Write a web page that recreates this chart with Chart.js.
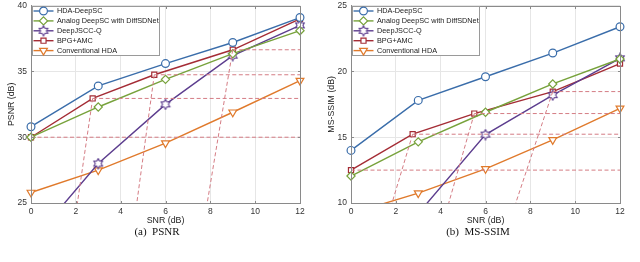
<!DOCTYPE html>
<html>
<head>
<meta charset="utf-8">
<script src="https://cdn.jsdelivr.net/npm/chart.js"></script>
<style>
  body { margin: 0; background: #fff; width: 640px; height: 262px; overflow: hidden; position: relative; }
  .panel { position: absolute; top: 0; width: 320px; height: 226px; }
  .cap { position: absolute; top: 225px; width: 200px; text-align: center; white-space: pre;
         font-family: "Liberation Serif", "Times New Roman", serif; font-size: 11px; color: #111; }
</style>
</head>
<body>
<div class="panel" style="left:0"><canvas id="psnr" width="320" height="226"></canvas></div>
<div class="panel" style="left:320px"><canvas id="ssim" width="320" height="226"></canvas></div>
<div class="cap" style="left:57px">(a)  PSNR</div>
<div class="cap" style="left:378px">(b)  MS-SSIM</div>
<script>
// SNR points (dB)
const snr = [0, 3, 6, 9, 12];
const bpgSnr = [0, 2.75, 5.5, 9, 12];
const seriesNames = ['HDA-DeepSC', 'Analog DeepSC with DiffSDNet', 'DeepJSCC-Q', 'BPG+AMC', 'Conventional HDA'];

// PSNR panel
const psnrHda = [30.8, 33.9, 35.6, 37.2, 39.1];
const psnrAnalog = [30.0, 32.3, 34.4, 36.35, 38.1];
const psnrDeepjscc = [22.0, 28.0, 32.5, 36.2, 38.5];
const psnrBpg = [30.0, 32.95, 34.75, 36.65, 39.0];
const psnrConv = [25.8, 27.5, 29.55, 31.9, 34.3];
const psnrCliffX = [2.07, 4.72, 7.86];   // where the BPG mode curves hit the bottom
const psnrTicks = [25, 30, 35, 40];

// MS-SSIM panel
const ssimHda = [14.0, 17.8, 19.6, 21.4, 23.4];
const ssimAnalog = [12.05, 14.65, 16.9, 19.05, 20.95];
const ssimDeepjscc = [5.0, 9.2, 15.2, 18.2, 21.0];
const ssimBpg = [12.5, 15.23, 16.8, 18.47, 20.6];
const ssimConv = [9.2, 10.75, 12.6, 14.8, 17.2];
const ssimCliffX = [1.83, 4.36, 7.35];
const ssimTicks = [10, 15, 20, 25];

const colors = ['#3a6daa', '#77a23b', '#5c3d8e', '#a42c35', '#e07a2c'];
const dashColor = '#d47c84';
const sans = '"Liberation Sans", Arial, sans-serif';

// 6-point star marker
function hexagram(color) {
  const size = 12;
  const c = document.createElement('canvas');
  c.width = c.height = size;
  const g = c.getContext('2d');
  const r = 5, ri = r / Math.sqrt(3);
  g.beginPath();
  for (let i = 0; i < 12; i++) {
    const a = -Math.PI / 2 + i * Math.PI / 6;
    const rr = i % 2 ? ri : r;
    const px = size / 2 + rr * Math.cos(a), py = size / 2 + rr * Math.sin(a);
    i ? g.lineTo(px, py) : g.moveTo(px, py);
  }
  g.closePath();
  g.fillStyle = '#fff';
  g.fill();
  g.strokeStyle = color;
  g.lineWidth = 1.1;
  g.stroke();
  return c;
}

const styles = [
  { pointStyle: 'circle', pointRadius: 3.9, pointRotation: 0 },
  { pointStyle: 'rectRot', pointRadius: 4.1, pointRotation: 0 },
  { pointStyle: hexagram(colors[2]), pointRadius: 4, pointRotation: 0 },
  { pointStyle: 'rect', pointRadius: 3.6, pointRotation: 0 },
  { pointStyle: 'triangle', pointRadius: 4.5, pointRotation: 180 }
];

function pts(xs, ys) { return xs.map((x, i) => ({ x: x, y: ys[i] })); }

function buildDatasets(ys, bpgY, cliffX, yMin) {
  const sets = ys.map((vals, i) => Object.assign({
    label: seriesNames[i],
    data: pts(i === 3 ? bpgSnr : snr, vals),
    borderColor: colors[i],
    pointBorderColor: colors[i],
    pointBackgroundColor: '#fff',
    borderWidth: 1.4,
    pointBorderWidth: 1.2,
    tension: 0,
    clip: { left: 8, right: 8, top: 8, bottom: 0 }
  }, styles[i]));
  // dashed guides of the BPG operating points
  const guides = [];
  bpgY.forEach((v, i) => {
    if (i < 4) guides.push({ data: [{ x: bpgSnr[i], y: v }, { x: 12, y: v }] });
  });
  cliffX.forEach((cx, i) => {
    guides.push({ data: [{ x: bpgSnr[i + 1], y: bpgY[i + 1] }, { x: cx, y: yMin }] });
  });
  guides.forEach(g => {
    sets.unshift(Object.assign(g, {
      borderColor: dashColor, borderWidth: 1, borderDash: [4, 2.5],
      pointRadius: 0, guide: true, clip: 0
    }));
  });
  return sets;
}

const frame = {
  id: 'frame',
  afterDraw(chart) {
    const ctx = chart.ctx, a = chart.chartArea;
    const xs = chart.scales.x, ys = chart.scales.y;
    ctx.save();
    ctx.strokeStyle = '#8a8a8a';
    ctx.lineWidth = 1;
    const L = Math.round(a.left) + 0.5, T = Math.round(a.top) + 0.5;
    const R = Math.round(a.right) + 0.5, B = Math.round(a.bottom) + 0.5;
    ctx.strokeRect(L, T, R - L, B - T);
    ctx.beginPath();
    xs.ticks.forEach(t => {
      const px = Math.round(xs.getPixelForValue(t.value)) + 0.5;
      ctx.moveTo(px, B); ctx.lineTo(px, B - 2.5);
      ctx.moveTo(px, T); ctx.lineTo(px, T + 2.5);
    });
    ys.ticks.forEach(t => {
      const py = Math.round(ys.getPixelForValue(t.value)) + 0.5;
      ctx.moveTo(L, py); ctx.lineTo(L + 2.5, py);
      ctx.moveTo(R, py); ctx.lineTo(R - 2.5, py);
    });
    ctx.stroke();

    // legend box, top-left inside the axes
    const x0 = L + 1, y0 = T, w = 127, h = 49;
    ctx.fillStyle = '#fff';
    ctx.fillRect(x0, y0, w, h);
    ctx.strokeStyle = '#9a9a9a';
    ctx.strokeRect(x0, y0, w, h);
    ctx.font = '7.3px ' + sans;
    ctx.textBaseline = 'middle';
    const series = chart.data.datasets.filter(d => !d.guide);
    series.forEach((ds, i) => {
      const y = y0 + 4.5 + i * 9.9;
      ctx.strokeStyle = ds.borderColor;
      ctx.lineWidth = 1.4;
      ctx.beginPath();
      ctx.moveTo(x0 + 1, y); ctx.lineTo(x0 + 21, y);
      ctx.stroke();
      ctx.fillStyle = '#fff';
      ctx.lineWidth = 1.2;
      Chart.helpers.drawPoint(ctx, {
        pointStyle: ds.pointStyle, radius: ds.pointRadius,
        rotation: ds.pointRotation, borderWidth: 1.2
      }, x0 + 11, y);
      ctx.fillStyle = '#222';
      ctx.fillText(ds.label, x0 + 24.5, y + 0.3);
    });
    ctx.restore();
  }
};

function makeChart(id, datasets, yMin, yMax, yTicks, yTitle) {
  return new Chart(document.getElementById(id), {
    type: 'line',
    data: { datasets: datasets },
    plugins: [frame],
    options: {
      responsive: false,
      animation: false,
      devicePixelRatio: 1,
      layout: { padding: { left: 0, right: 20, top: 3, bottom: 0 } },
      plugins: { legend: { display: false }, tooltip: { enabled: false } },
      scales: {
        x: {
          type: 'linear', min: 0, max: 12,
          ticks: { stepSize: 2, color: '#333', padding: 3.5, font: { family: sans, size: 8.5 } },
          grid: { color: '#e6e6e6', drawTicks: false },
          border: { color: '#8a8a8a' },
          title: { display: true, text: 'SNR (dB)', color: '#222', padding: { top: 0, bottom: 0 },
                   font: { family: sans, size: 8.8 } },
          afterFit(s) { s.height = 23; s.paddingLeft = 0; s.paddingRight = 0; }
        },
        y: {
          type: 'linear', min: yMin, max: yMax,
          afterBuildTicks(s) { s.ticks = yTicks.map(v => ({ value: v })); },
          ticks: { color: '#333', padding: 4, font: { family: sans, size: 8.5 } },
          grid: { color: '#e6e6e6', drawTicks: false },
          border: { color: '#8a8a8a' },
          title: { display: true, text: yTitle, color: '#222', padding: { top: 6.5, bottom: 0 },
                   font: { family: sans, size: 8.8 } },
          afterFit(s) { s.width = 31; s.paddingTop = 0; s.paddingBottom = 0; }
        }
      }
    }
  });
}

makeChart('psnr',
  buildDatasets([psnrHda, psnrAnalog, psnrDeepjscc, psnrBpg, psnrConv], psnrBpg, psnrCliffX, 25),
  25, 40, psnrTicks, 'PSNR (dB)');
makeChart('ssim',
  buildDatasets([ssimHda, ssimAnalog, ssimDeepjscc, ssimBpg, ssimConv], ssimBpg, ssimCliffX, 10),
  10, 25, ssimTicks, 'MS-SSIM (dB)');
</script>
</body>
</html>
